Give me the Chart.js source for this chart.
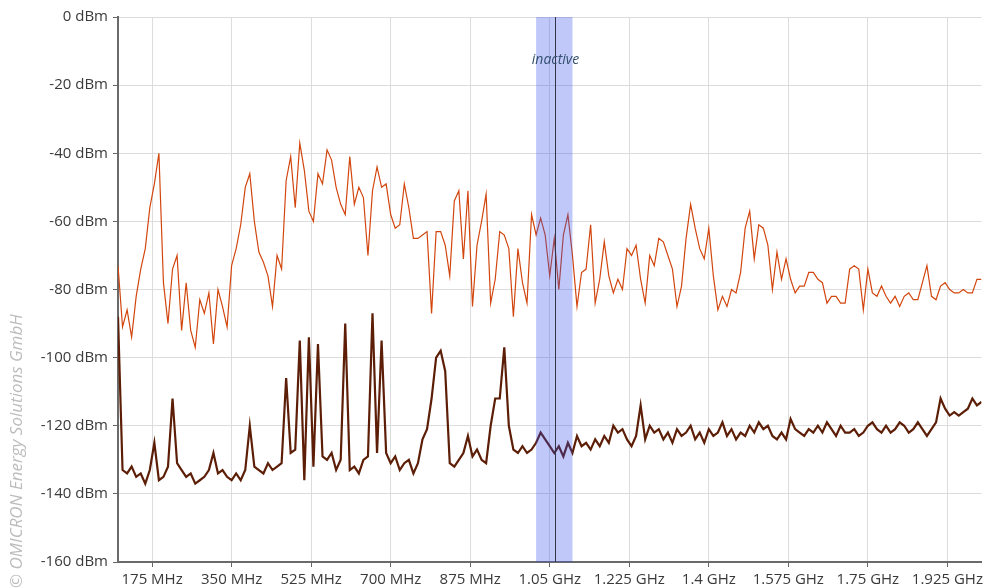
<!DOCTYPE html>
<html>
<head>
<meta charset="utf-8">
<script src="https://cdn.jsdelivr.net/npm/chart.js@4.4.1/dist/chart.umd.min.js"></script>
<style>
  html, body { margin: 0; padding: 0; background: #fff; }
  #wrap { width: 987px; height: 588px; }
</style>
</head>
<body>
<div id="wrap"><canvas id="chart" width="987" height="588"></canvas></div>
<script>
// sweep: 100 MHz .. 2000 MHz, one reading every 10 MHz
const sweepStartMHz = 100
const sweepStepMHz = 10

// live trace (dBm)
const upperTrace = [
  -73, -91, -86, -94, -82, -74, -68, -56, -49, -40,
  -78, -90, -74, -70, -92, -78, -92, -97, -83, -87,
  -81, -96, -80, -85, -91, -73, -68, -61, -50, -46,
  -60, -69, -72, -76, -85, -70, -74, -48, -41, -56,
  -37, -45, -57, -60, -46, -49, -39, -42, -50, -55,
  -58, -41, -55, -50, -53, -70, -51, -44, -50, -49,
  -58, -62, -61, -49, -56, -65, -65, -64, -63, -87,
  -63, -63, -67, -76, -54, -51, -71, -51, -85, -67,
  -60, -52, -84, -77, -63, -64, -68, -88, -68, -78,
  -84, -58, -64, -59, -64, -76, -65, -80, -64, -58,
  -70, -85, -75, -74, -61, -84, -77, -66, -76, -81,
  -77, -80, -68, -70, -67, -77, -84, -70, -73, -65,
  -66, -70, -74, -85, -79, -65, -55, -62, -68, -71,
  -62, -76, -86, -82, -85, -80, -81, -75, -62, -57,
  -71, -61, -62, -67, -80, -69, -77, -71, -77, -81,
  -79, -79, -75, -75, -77, -78, -84, -82, -82, -84,
  -84, -74, -73, -74, -86, -74, -81, -82, -79, -82,
  -84, -82, -85, -82, -81, -83, -83, -78, -73, -82,
  -83, -79, -78, -80, -81, -81, -80, -81, -81, -77,
  -77
]

// reference / background trace (dBm)
const lowerTrace = [
  -88, -133, -134, -132, -135, -134, -137, -133, -125, -136,
  -135, -132, -112, -131, -133, -135, -134, -137, -136, -135,
  -133, -128, -134, -133, -135, -136, -134, -136, -133, -120,
  -132, -133, -134, -131, -133, -132, -131, -106, -128, -127,
  -95, -136, -94, -132, -96, -129, -130, -128, -133, -130,
  -90, -133, -132, -134, -130, -129, -87, -128, -95, -128,
  -131, -129, -133, -131, -130, -134, -131, -124, -121, -112,
  -100, -98, -104, -131, -132, -130, -128, -123, -129, -127,
  -130, -131, -120, -112, -112, -97, -120, -127, -128, -126,
  -128, -127, -125, -122, -124, -126, -128, -126, -129, -125,
  -128, -123, -126, -125, -127, -124, -126, -123, -125, -120,
  -122, -121, -124, -126, -123, -114, -124, -120, -122, -121,
  -124, -122, -125, -121, -123, -122, -120, -124, -122, -125,
  -121, -123, -122, -119, -123, -121, -124, -122, -123, -120,
  -122, -119, -121, -120, -123, -124, -122, -124, -118, -121,
  -122, -123, -121, -122, -120, -122, -119, -121, -123, -120,
  -122, -122, -121, -123, -122, -120, -119, -121, -122, -120,
  -122, -121, -119, -120, -122, -121, -119, -121, -123, -121,
  -119, -112, -115, -117, -116, -117, -116, -115, -112, -114,
  -113
]

const xTickValues = [175, 350, 525, 700, 875, 1050, 1225, 1400, 1575, 1750, 1925]
const xTickLabels = ['175 MHz', '350 MHz', '525 MHz', '700 MHz', '875 MHz', '1.05 GHz',
  '1.225 GHz', '1.4 GHz', '1.575 GHz', '1.75 GHz', '1.925 GHz']

const inactiveBand = [1020, 1100]
const markerMHz = 1062
const bandLabel = 'inactive'
const copyright = '\u00A9 OMICRON Energy Solutions GmbH'

function toPoints(trace) {
  let pts = []
  for (let i = 0; i < trace.length; i++) {
    pts.push({ x: sweepStartMHz + i * sweepStepMHz, y: trace[i] })
  }
  return pts
}

const axisFont = { family: 'Open Sans', size: 15 }

const bandPlugin = {
  id: 'band',
  afterDatasetsDraw(chart) {
    const { ctx, chartArea, scales } = chart
    const x0 = scales.x.getPixelForValue(inactiveBand[0])
    const x1 = scales.x.getPixelForValue(inactiveBand[1])
    const xm = Math.round(scales.x.getPixelForValue(markerMHz)) + 0.5
    ctx.save()
    ctx.fillStyle = 'rgba(45,72,238,0.3)'
    ctx.fillRect(x0, chartArea.top, x1 - x0, chartArea.bottom - chartArea.top)
    ctx.strokeStyle = '#33334a'
    ctx.lineWidth = 1
    ctx.beginPath()
    ctx.moveTo(xm, chartArea.top)
    ctx.lineTo(xm, chartArea.bottom)
    ctx.stroke()
    ctx.font = 'italic 14px "Open Sans"'
    ctx.fillStyle = '#34506e'
    ctx.textAlign = 'center'
    ctx.textBaseline = 'middle'
    ctx.fillText(bandLabel, xm, 60)
    ctx.restore()
  }
}

const watermark = {
  id: 'watermark',
  afterDraw(chart) {
    const ctx = chart.ctx
    ctx.save()
    ctx.translate(22, 588)
    ctx.rotate(-Math.PI / 2)
    ctx.font = 'italic 17px "Open Sans"'
    ctx.fillStyle = '#bcbcbc'
    ctx.textAlign = 'left'
    ctx.textBaseline = 'alphabetic'
    ctx.fillText(copyright, 0, 0)
    ctx.restore()
  }
}

const ctx = document.getElementById('chart').getContext('2d')
const chart = new Chart(ctx, {
  type: 'line',
  data: {
    datasets: [
      {
        label: 'trace',
        data: toPoints(upperTrace),
        borderColor: 'rgb(210,70,14)',
        borderWidth: 1.2,
        pointRadius: 0,
        tension: 0
      },
      {
        label: 'reference',
        data: toPoints(lowerTrace),
        borderColor: 'rgb(92,30,6)',
        borderWidth: 2.2,
        pointRadius: 0,
        tension: 0
      }
    ]
  },
  options: {
    responsive: false,
    animation: false,
    layout: { padding: { left: 0, right: 1, top: 17, bottom: 0 } },
    plugins: {
      legend: { display: false },
      tooltip: { enabled: false }
    },
    scales: {
      x: {
        type: 'linear',
        min: 100,
        max: 2000,
        afterBuildTicks: (scale) => { scale.ticks = xTickValues.map(v => ({ value: v })) },
        afterFit: (scale) => { scale.height = 26 },
        ticks: {
          autoSkip: false,
          maxRotation: 0,
          padding: 4,
          font: axisFont,
          color: '#3a3a3a',
          callback: (v) => xTickLabels[xTickValues.indexOf(v)]
        },
        grid: { color: '#dcdcdc', tickColor: '#666', tickLength: 5 },
        border: { color: '#6a6a6a', width: 2 }
      },
      y: {
        min: -160,
        max: 0,
        afterFit: (scale) => { scale.width = 118 },
        ticks: {
          stepSize: 20,
          padding: 5,
          font: axisFont,
          color: '#3a3a3a',
          callback: (v) => v + ' dBm'
        },
        grid: { color: '#dcdcdc', tickColor: '#666', tickLength: 5 },
        border: { color: '#6a6a6a', width: 2 }
      }
    }
  },
  plugins: [bandPlugin, watermark]
})
</script>
</body>
</html>
